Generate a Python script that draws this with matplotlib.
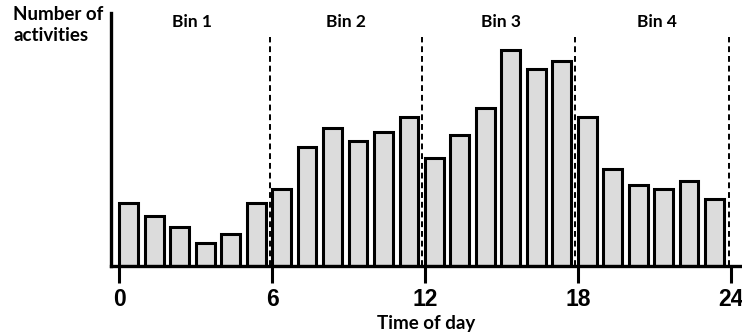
import matplotlib.pyplot as plt

# hourly activity counts (arbitrary units)
hours = list(range(24))
counts = [29, 23, 18, 10.5, 15, 29, 35.5, 55, 64, 58, 62, 69,
          50, 60.5, 73, 100, 91, 95, 69, 45, 37.5, 35.5, 39.5, 31]
bin_edges = [5.9, 11.9, 17.9, 23.95]
bin_labels = ["Bin 1", "Bin 2", "Bin 3", "Bin 4"]
bin_centers = [2.85, 8.9, 15.0, 21.1]
xticks = [0, 6, 12, 18, 24]

fig = plt.figure(figsize=(7.42, 3.36), dpi=100)
ax = fig.add_axes([0.1496, 0.2083, 0.8504, 0.753])

ax.bar(hours, counts, width=0.74, align='edge', color='#dcdcdc',
       edgecolor='black', linewidth=2.2, zorder=2)

for e in bin_edges:
    ax.plot([e, e], [0, 106], color='black', linestyle=(0, (3, 2)),
            linewidth=1.4, zorder=3)

for c, lab in zip(bin_centers, bin_labels):
    ax.text(c, 113, lab, ha='center', va='center', fontsize=12.5,
            fontweight='bold', family='Lato')

ax.set_xlim(-0.33, 24.45)
ax.set_ylim(0, 117)
ax.set_xticks(xticks)
ax.set_xticklabels([str(t) for t in xticks], fontsize=16.5,
                   fontweight='bold', family='Liberation Sans')
ax.set_yticks([])
ax.tick_params(axis='x', length=12, width=2.2, pad=4)

for s in ['top', 'right']:
    ax.spines[s].set_visible(False)
ax.spines['left'].set_linewidth(2.4)
ax.spines['bottom'].set_linewidth(2.4)

fig.text(0.018, 0.925, "Number of\nactivities", ha='left', va='center',
         fontsize=13.5, fontweight='bold', family='Lato', linespacing=1.25)
ax.set_xlabel("Time of day", fontsize=13.5, fontweight='bold', family='Lato',
              labelpad=3)

fig.savefig("out.png", dpi=100)
